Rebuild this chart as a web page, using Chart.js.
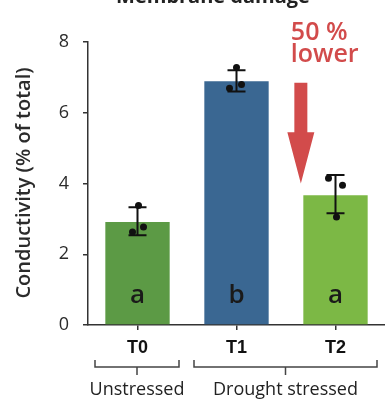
<!DOCTYPE html>
<html>
<head>
<meta charset="utf-8">
<script src="https://cdn.jsdelivr.net/npm/chart.js@4.4.0/dist/chart.umd.min.js"></script>
<style>
  html, body { margin: 0; padding: 0; background: #fff; }
  #wrap { width: 385px; height: 401px; }
</style>
</head>
<body>
<div id="wrap"><canvas id="chart" width="385" height="401"></canvas></div>
<script>
// Données
const categories = ['T0', 'T1', 'T2'];
const means = [2.91, 6.89, 3.67];
const errLow = [2.54, 6.6, 3.16];
const errHigh = [3.33, 7.2, 4.24];
const replicates = [
    [3.38, 2.77, 2.63],
    [7.28, 6.8, 6.69],
    [4.15, 3.95, 3.05]
];
const letters = ['a', 'b', 'a'];
const groups = [
    { label: 'Unstressed', from: 0, to: 0 },
    { label: 'Drought stressed', from: 1, to: 2 }
];
const yTicks = [0, 2, 4, 6, 8];

const colors = {
    t0: '#5c9a45',
    t1: '#3a6792',
    t2: '#7cb845',
    red: '#d24b4b',
    text: '#2b2b2b',
    axis: '#333333'
};

// petit décalage horizontal des points (px)
const jitter = [[1, 6, -5], [0, 5, -7], [-7, 7, 1]];

const decorations = {
    id: 'decorations',
    afterDatasetsDraw(chart) {
        const ctx = chart.ctx;
        const x = chart.scales.x;
        const y = chart.scales.y;
        ctx.save();

        // barres d'erreur + points individuels
        ctx.strokeStyle = '#111';
        ctx.fillStyle = '#111';
        ctx.lineWidth = 2;
        categories.forEach((c, i) => {
            const cx = x.getPixelForValue(i);
            const yl = y.getPixelForValue(errLow[i]);
            const yh = y.getPixelForValue(errHigh[i]);
            ctx.beginPath();
            ctx.moveTo(cx, yl); ctx.lineTo(cx, yh);
            ctx.moveTo(cx - 9, yl); ctx.lineTo(cx + 9, yl);
            ctx.moveTo(cx - 9, yh); ctx.lineTo(cx + 9, yh);
            ctx.stroke();
            replicates[i].forEach((v, j) => {
                ctx.beginPath();
                ctx.arc(cx + jitter[i][j], y.getPixelForValue(v), 3.5, 0, Math.PI * 2);
                ctx.fill();
            });
            // lettres de significativité
            ctx.font = '600 26px "Open Sans", sans-serif';
            ctx.fillStyle = '#1a1a1a';
            ctx.textAlign = 'center';
            ctx.textBaseline = 'alphabetic';
            ctx.fillText(letters[i], cx, y.getPixelForValue(0.62));
            ctx.fillStyle = '#111';
        });

        // flèche "50 % lower"
        const ax = x.getPixelForValue(1.65);
        const aTop = y.getPixelForValue(6.85);
        const aTip = y.getPixelForValue(4.0);
        const headStart = y.getPixelForValue(5.45);
        ctx.fillStyle = colors.red;
        ctx.beginPath();
        ctx.moveTo(ax - 6.5, aTop);
        ctx.lineTo(ax + 6.5, aTop);
        ctx.lineTo(ax + 6.5, headStart);
        ctx.lineTo(ax + 13.5, headStart);
        ctx.lineTo(ax, aTip);
        ctx.lineTo(ax - 13.5, headStart);
        ctx.lineTo(ax - 6.5, headStart);
        ctx.closePath();
        ctx.fill();
        ctx.font = '600 25px "Open Sans", sans-serif';
        ctx.textAlign = 'left';
        ctx.textBaseline = 'alphabetic';
        ctx.fillText('50 %', ax - 10, 40);
        ctx.fillText('lower', ax - 10, 62);

        // titre coupé en haut
        ctx.fillStyle = '#222';
        ctx.font = 'bold 20px "Open Sans", sans-serif';
        ctx.textAlign = 'center';
        ctx.fillText('Membrane damage', 213, 3);

        // titre de l'axe y
        ctx.save();
        ctx.translate(24, 183);
        ctx.rotate(-Math.PI / 2);
        ctx.fillStyle = colors.text;
        ctx.font = '600 20px "Open Sans", sans-serif';
        ctx.textAlign = 'center';
        ctx.textBaseline = 'middle';
        ctx.fillText('Conductivity (% of total)', 0, 0);
        ctx.restore();

        // accolades des groupes
        ctx.strokeStyle = '#444';
        ctx.lineWidth = 1.5;
        ctx.fillStyle = '#222';
        ctx.font = '18px "Open Sans", sans-serif';
        ctx.textAlign = 'center';
        ctx.textBaseline = 'alphabetic';
        const half = (x.getPixelForValue(1) - x.getPixelForValue(0)) / 2;
        groups.forEach(g => {
            const left = x.getPixelForValue(g.from) - half + 7;
            const right = Math.min(x.getPixelForValue(g.to) + half - 8, 383);
            const mid = (left + right) / 2;
            ctx.beginPath();
            ctx.moveTo(left, 360); ctx.lineTo(left, 367);
            ctx.lineTo(right, 367); ctx.lineTo(right, 360);
            ctx.moveTo(mid, 367); ctx.lineTo(mid, 375);
            ctx.stroke();
            ctx.fillText(g.label, mid, 395);
        });
        ctx.restore();
    }
};

new Chart(document.getElementById('chart'), {
    type: 'bar',
    data: {
        labels: categories,
        datasets: [{
            data: means,
            backgroundColor: [colors.t0, colors.t1, colors.t2],
            borderWidth: 0,
            barPercentage: 0.65,
            categoryPercentage: 1
        }]
    },
    options: {
        responsive: false,
        animation: false,
        layout: { padding: { top: 42, right: -7, left: 0, bottom: 0 } },
        plugins: { legend: { display: false }, tooltip: { enabled: false } },
        scales: {
            x: {
                grid: { drawOnChartArea: false, offset: false, tickLength: 5, color: colors.axis, lineWidth: 1.5 },
                border: { color: colors.axis, width: 1.5 },
                ticks: {
                    color: '#111',
                    font: { family: '"Liberation Sans", Arial, sans-serif', size: 18, weight: 'bold' },
                    padding: 7
                },
                afterFit(scale) { scale.height = 76; }
            },
            y: {
                min: 0,
                max: 8,
                afterBuildTicks(scale) { scale.ticks = yTicks.map(v => ({ value: v })); },
                grid: { drawOnChartArea: false, tickLength: 5, color: colors.axis, lineWidth: 1.5 },
                border: { color: colors.axis, width: 1.5 },
                ticks: {
                    color: colors.text,
                    font: { family: '"Open Sans", sans-serif', size: 18 },
                    padding: 14
                },
                afterFit(scale) { scale.width = 88; }
            }
        }
    },
    plugins: [decorations]
});
</script>
</body>
</html>
